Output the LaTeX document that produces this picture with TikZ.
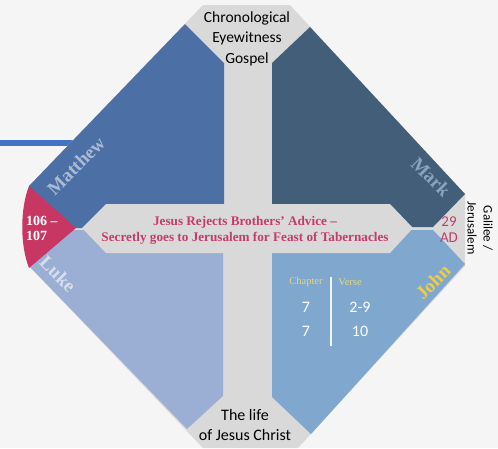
\documentclass[tikz,border=0pt]{standalone}
\usepackage{fontspec}
\setmainfont{Liberation Serif}
\setsansfont{Carlito}
\usepackage{tikz}

\definecolor{paper}{RGB}{245,245,245}
\definecolor{crossgray}{RGB}{217,217,217}
\definecolor{matthewc}{RGB}{76,112,166}
\definecolor{markc}{RGB}{66,94,121}
\definecolor{lukec}{RGB}{155,175,213}
\definecolor{johnc}{RGB}{128,167,205}
\definecolor{wedgered}{RGB}{200,54,100}
\definecolor{eventred}{RGB}{196,60,110}
\definecolor{linkblue}{RGB}{68,114,196}
\definecolor{goldc}{RGB}{238,204,72}
\definecolor{headc}{RGB}{226,216,132}

\tikzset{
  gospel/.style={font=\fontsize{19}{19}\selectfont\bfseries, inner sep=0pt},
  sidetext/.style={font=\sffamily\fontsize{15.5}{20.5}\selectfont, align=center, inner sep=0pt},
  tabnum/.style={font=\sffamily\fontsize{16}{16}\selectfont, text=white, inner sep=0pt},
  tabhead/.style={font=\fontsize{10.5}{10.5}\selectfont, text=headc, inner sep=0pt}
}

\begin{document}
\begin{tikzpicture}[x=1pt,y=-1pt]
        \useasboundingbox (0,0) rectangle (498,448);
        \fill[paper] (0,0) rectangle (498,448);
        \clip (0,0) rectangle (498,448);
        % link coming in from the left
        \coordinate (linkin) at (0,143);
        \coordinate (linkend) at (90,143);
        \draw[linkblue,line width=6pt] (linkin) -- (linkend);
        % gray octagon with the cross
        \fill[crossgray] (203,5) -- (290,5) -- (465,194) -- (465,266) --
        (298,448) -- (203,448) -- (29,266) -- (29,186) -- cycle;
        % the four gospels
        \fill[matthewc] (185,24) -- (224,63) -- (224,228) -- (29,228) -- (29,186) -- cycle;
        \fill[markc] (310,27) -- (465,194) -- (433,227) -- (272,227) -- (272,63) -- cycle;
        \fill[lukec] (29,230) -- (223,230) -- (223,396) -- (187,429) -- (29,266) -- cycle;
        \fill[johnc] (272,230) -- (433,230) -- (465,264) -- (311,434) -- (272,397) -- cycle;
        % date wedge and event banner
        \fill[wedgered] (29,186) -- (76,228) -- (29,268)
        .. controls (20,245) and (20,209) .. (29,186) -- cycle;
        \fill[crossgray] (82,228) -- (106,204) -- (390,204) -- (413,228) --
        (390,253) -- (106,253) -- cycle;
        % texts
        \node[sidetext] (topt) at (247,38.5) {Chronological\\Eyewitness\\Gospel};
        \node[sidetext,font=\sffamily\fontsize{16}{20}\selectfont] (bott) at (245,425) {The life\\of Jesus Christ};
        \node[sidetext,font=\sffamily\fontsize{13}{16}\selectfont,rotate=-90] (place) at (480,228) {Galilee /\\Jerusalem};
        \node[sidetext,font=\sffamily\fontsize{15}{16}\selectfont,text=eventred] (yr) at (449,230) {29\\AD};
        \node[font=\fontsize{14}{15}\selectfont\bfseries,text=white,align=left,anchor=west,inner sep=0pt] (sec) at (26,228) {106 –\\107};
        \node[font=\fontsize{13.2}{16}\selectfont\bfseries,text=eventred,align=center,inner sep=0pt] (event) at (245,230)
        {Jesus Rejects Brothers’ Advice –\\Secretly goes to Jerusalem for Feast of Tabernacles};
        \node[gospel,text={rgb,255:red,170;green,186;blue,210},rotate=45] (mt) at (76,166) {Matthew};
        \node[gospel,text={rgb,255:red,140;green,163;blue,188},rotate=-45] (mk) at (431,177) {Mark};
        \node[gospel,text={rgb,255:red,214;green,222;blue,238},rotate=-45] (lk) at (58,274) {Luke};
        \node[gospel,text=goldc,rotate=45] (jn) at (433,282) {John};
        % chapter / verse table
        \node[tabhead] (ch) at (306,282) {Chapter};
        \node[tabhead] (vs) at (350,282) {Verse};
        \foreach \r/\c/\v in {1/7/2-9, 2/7/10} {
          \node[tabnum] (c\r) at (306,283+24*\r) {\c};
          \node[tabnum] (v\r) at (360,283+24*\r) {\v};
        }
        \draw[white!90!johnc,line width=1.5pt] (331,277) -- (331,346);
\end{tikzpicture}
\end{document}
